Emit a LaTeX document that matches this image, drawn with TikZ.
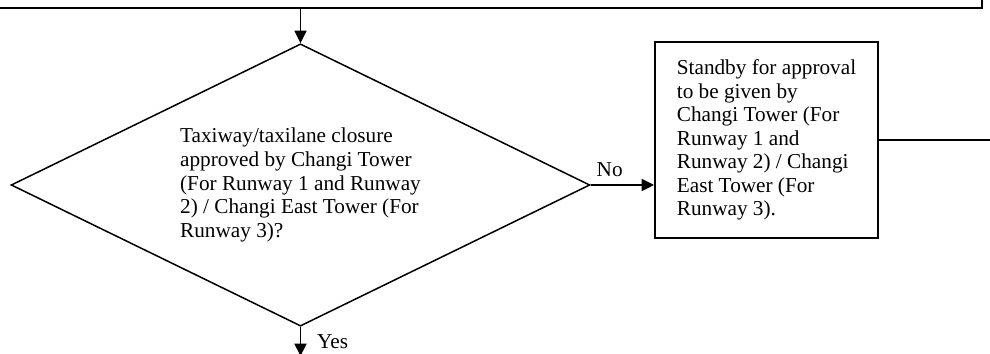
\documentclass[tikz,border=0pt]{standalone}
\usepackage{fontspec}
\setmainfont{Liberation Serif}
\usetikzlibrary{arrows.meta}
\usetikzlibrary{shapes}

\begin{document}
\begin{tikzpicture}[x=0.565pt,y=0.565pt,yscale=-1,xscale=1,
  flow/.style={line width=0.85pt},
  arr/.style={flow,-{Triangle[length=7pt,width=6.8pt]}},
  txt/.style={font=\fontsize{12}{13.3}\selectfont,align=left}]
\useasboundingbox (0,0) rectangle (990,354);

%Shape: Rectangle [previous step, cut off at the top]
\node [draw,line width=1.1pt,minimum width=567pt,minimum height=28pt,inner sep=0pt,anchor=south east] (prev) at (983,9) {};
%Shape: Diamond [closure approved?]
\node [draw,flow,diamond,aspect=2.05,minimum width=327pt,minimum height=159.5pt,inner sep=0pt,txt] (closure) at (300.5,185) {Taxiway/taxilane closure\\approved by Changi Tower\\(For Runway 1 and Runway\\2) / Changi East Tower (For\\Runway 3)?};
%Shape: Rectangle [standby]
\node [draw,line width=1.1pt,minimum width=126pt,minimum height=110.7pt,inner sep=0pt,txt] (standby) at (766.5,140) {Standby for approval\\to be given by\\Changi Tower (For\\Runway 1 and\\Runway 2) / Changi\\East Tower (For\\Runway 3).};

%Free ends
\coordinate (next) at (300.5,356);
\coordinate (out) at (995,140);

%Straight Lines
\draw [arr] (closure.north |- prev.south) -- (closure.north);
\draw [arr] (closure.east) -- (closure.east -| standby.west) node [pos=0.3,above=4pt,inner sep=0pt,txt] {No};
\draw [arr] (closure.south) -- (next) node [midway,right=9pt,inner sep=0pt,txt] {Yes};
\draw [flow] (standby.east) -- (out);

\end{tikzpicture}
\end{document}
